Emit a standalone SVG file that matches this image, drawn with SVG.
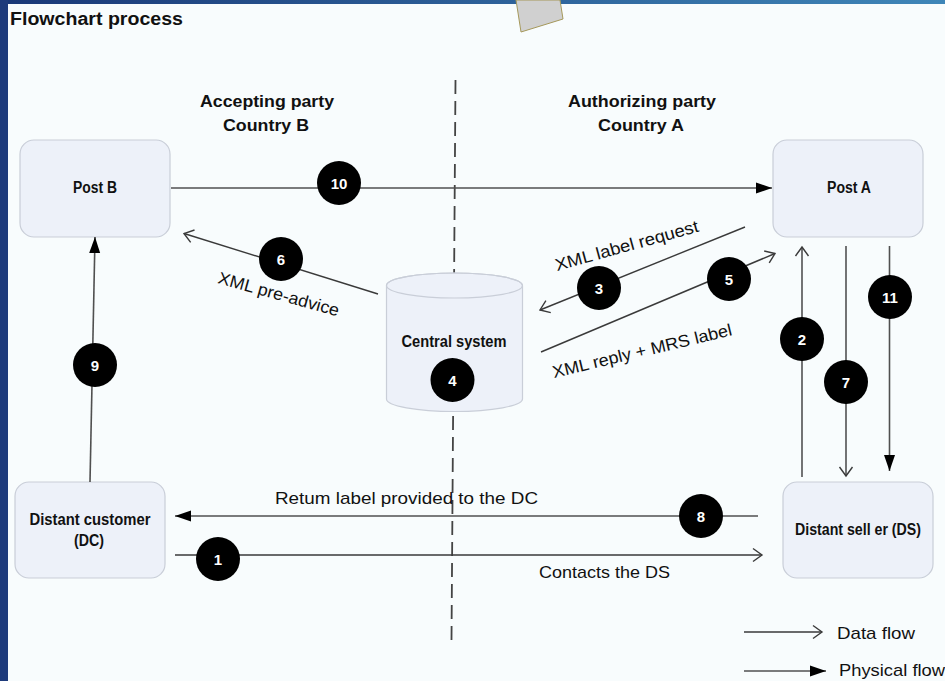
<svg xmlns="http://www.w3.org/2000/svg" width="945" height="681" viewBox="0 0 945 681">
  <style>
    .node { fill: #edf1f9; stroke: #c9ced8; stroke-width: 1.2; }
    .lbl { font-family: "Liberation Sans", Arial, sans-serif; font-weight: bold; font-size: 16px; fill: #111; text-anchor: middle; }
    .hdr { font-family: "Liberation Sans", Arial, sans-serif; font-weight: bold; font-size: 17px; fill: #111; text-anchor: middle; }
    .txt { font-family: "Liberation Sans", Arial, sans-serif; font-size: 17px; fill: #111; }
    .data { stroke: #3a3a3a; stroke-width: 1.4; fill: none; marker-end: url(#open); }
    .phys { stroke: #505050; stroke-width: 1.6; fill: none; marker-end: url(#solid); }
    .badge circle { fill: #000; }
    .badge text { font-family: "Liberation Sans", Arial, sans-serif; font-weight: bold; font-size: 15px; fill: #fff; text-anchor: middle; }
  </style>
  <defs>
    <linearGradient id="topband" x1="0" y1="0" x2="1" y2="0">
      <stop offset="0" stop-color="#1a3877"/>
      <stop offset="1" stop-color="#3f86b8"/>
    </linearGradient>
    <marker id="open" markerUnits="userSpaceOnUse" markerWidth="14" markerHeight="16" refX="12" refY="8" orient="auto" viewBox="0 0 14 16">
      <path d="M3,1.5 L12,8 L3,14.5" fill="none" stroke="#3a3a3a" stroke-width="1.4"/>
    </marker>
    <marker id="solid" markerUnits="userSpaceOnUse" markerWidth="16" markerHeight="12" refX="16" refY="6" orient="auto" viewBox="0 0 16 12">
      <path d="M0,0.5 L16,6 L0,11.5 Z" fill="#000"/>
    </marker>
  </defs>

  <!-- background frame -->
  <rect x="0" y="0" width="945" height="681" fill="#f8fcfd"/>
  <rect x="0" y="0" width="945" height="4" fill="url(#topband)"/>
  <rect x="0" y="0" width="8" height="681" fill="#1e3b7b"/>
  <polygon points="516,0 560,0 563,19 521,32" fill="#d0d0d0" stroke="#a5985a" stroke-width="1"/>

  <text x="10" y="25" font-family="Liberation Sans, Arial, sans-serif" font-weight="bold" font-size="18" fill="#111" textLength="173" lengthAdjust="spacingAndGlyphs">Flowchart process</text>

  <!-- headers -->
  <text class="hdr" x="267" y="107" textLength="134" lengthAdjust="spacingAndGlyphs">Accepting party</text>
  <text class="hdr" x="266" y="131" textLength="86" lengthAdjust="spacingAndGlyphs">Country B</text>
  <text class="hdr" x="642" y="107" textLength="148" lengthAdjust="spacingAndGlyphs">Authorizing party</text>
  <text class="hdr" x="641" y="131" textLength="86" lengthAdjust="spacingAndGlyphs">Country A</text>

  <!-- divider -->
  <line x1="455.5" y1="80" x2="451.5" y2="640" stroke="#444" stroke-width="1.8" stroke-dasharray="14 7"/>

  <!-- nodes -->
  <g id="post-b">
    <rect class="node" x="20" y="140" width="150" height="97" rx="14"/>
    <text class="lbl" x="95" y="193" textLength="44" lengthAdjust="spacingAndGlyphs">Post B</text>
  </g>
  <g id="post-a">
    <rect class="node" x="773" y="140" width="150" height="97" rx="14"/>
    <text class="lbl" x="849" y="193" textLength="44" lengthAdjust="spacingAndGlyphs">Post A</text>
  </g>
  <g id="central-system">
    <path class="node" d="M386.5,285.5 L386.5,399 A68,12.5 0 0 0 522.5,399 L522.5,285.5 A68,12.5 0 0 0 386.5,285.5 Z"/>
    <ellipse cx="454.5" cy="285.5" rx="68" ry="12.5" fill="none" stroke="#c9ced8" stroke-width="1.2"/>
    <text class="lbl" x="454" y="347" textLength="105" lengthAdjust="spacingAndGlyphs">Central system</text>
  </g>
  <g id="distant-customer">
    <rect class="node" x="15" y="482" width="150" height="96" rx="14"/>
    <text class="lbl" x="90" y="525" textLength="121" lengthAdjust="spacingAndGlyphs">Distant customer</text>
    <text class="lbl" x="89" y="546" textLength="30" lengthAdjust="spacingAndGlyphs">(DC)</text>
  </g>
  <g id="distant-seller">
    <rect class="node" x="783" y="482" width="150" height="96" rx="14"/>
    <text class="lbl" x="858" y="535" textLength="126" lengthAdjust="spacingAndGlyphs">Distant sell er (DS)</text>
  </g>

  <!-- connectors -->
  <g id="connectors">
    <line class="phys" x1="171" y1="188" x2="772" y2="188"/>
    <line class="data" x1="378" y1="294" x2="184" y2="233.5"/>
    <line class="data" x1="745" y1="227" x2="540" y2="310"/>
    <line class="data" x1="541" y1="352" x2="775" y2="253.5"/>
    <line class="data" x1="802" y1="477" x2="802" y2="247"/>
    <line class="data" x1="846" y1="246" x2="846" y2="476"/>
    <line class="phys" x1="889.5" y1="246" x2="889.5" y2="471"/>
    <line class="phys" x1="90" y1="482" x2="95" y2="237"/>
    <line class="phys" x1="758" y1="516" x2="175" y2="516"/>
    <line class="data" x1="175" y1="555" x2="762" y2="555"/>

    <text class="txt" transform="translate(217,283) rotate(15.5)" textLength="125" lengthAdjust="spacingAndGlyphs">XML pre-advice</text>
    <text class="txt" transform="translate(557,271) rotate(-15.5)" textLength="148" lengthAdjust="spacingAndGlyphs">XML label request</text>
    <text class="txt" transform="translate(554,378) rotate(-13.5)" textLength="184" lengthAdjust="spacingAndGlyphs">XML reply + MRS label</text>
    <text class="txt" x="275" y="504" textLength="263" lengthAdjust="spacingAndGlyphs">Retum label provided to the DC</text>
    <text class="txt" x="539" y="578" textLength="131" lengthAdjust="spacingAndGlyphs">Contacts the DS</text>
  </g>

  <!-- step badges -->
  <g id="steps" class="badge">
    <g id="step-1"><circle cx="218" cy="559" r="22"/><text x="218" y="564.5">1</text></g>
    <g id="step-2"><circle cx="802" cy="339" r="22"/><text x="802" y="344.5">2</text></g>
    <g id="step-3"><circle cx="599" cy="288" r="22"/><text x="599" y="293.5">3</text></g>
    <g id="step-4"><circle cx="452.5" cy="380" r="22"/><text x="452.5" y="385.5">4</text></g>
    <g id="step-5"><circle cx="729" cy="279" r="22"/><text x="729" y="284.5">5</text></g>
    <g id="step-6"><circle cx="281" cy="259" r="22"/><text x="281" y="264.5">6</text></g>
    <g id="step-7"><circle cx="846" cy="382" r="22"/><text x="846" y="387.5">7</text></g>
    <g id="step-8"><circle cx="701" cy="516" r="22"/><text x="701" y="521.5">8</text></g>
    <g id="step-9"><circle cx="95" cy="365" r="22"/><text x="95" y="370.5">9</text></g>
    <g id="step-10"><circle cx="339" cy="183" r="22"/><text x="339" y="188.5">10</text></g>
    <g id="step-11"><circle cx="890" cy="297" r="22"/><text x="890" y="302.5">11</text></g>
  </g>

  <!-- legend -->
  <g id="legend">
    <line class="data" x1="744" y1="632" x2="822" y2="632"/>
    <text class="txt" x="837" y="639" textLength="78" lengthAdjust="spacingAndGlyphs">Data flow</text>
    <line class="phys" x1="744" y1="671" x2="826" y2="671"/>
    <text class="txt" x="839" y="676" textLength="106" lengthAdjust="spacingAndGlyphs">Physical flow</text>
  </g>
</svg>
